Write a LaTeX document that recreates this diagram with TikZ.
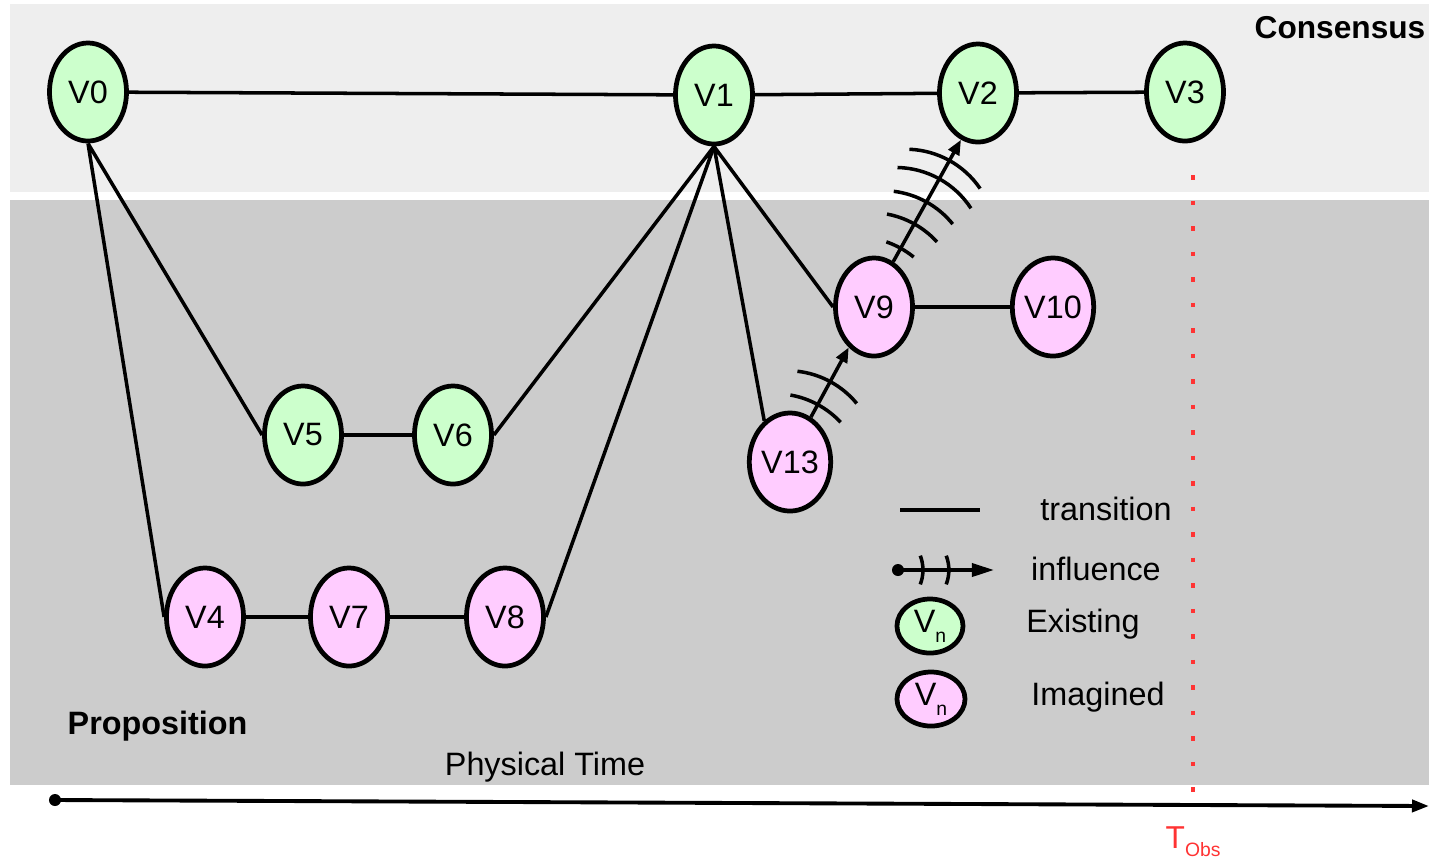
\documentclass[tikz,border=0pt]{standalone}
\usepackage{fontspec}
\setmainfont{Liberation Sans}
\usetikzlibrary{shapes.geometric, arrows.meta, decorations.markings}
\definecolor{bandlight}{RGB}{238,238,238}
\definecolor{banddark}{RGB}{204,204,204}
\definecolor{existgreen}{RGB}{204,255,204}
\definecolor{imagpink}{RGB}{255,204,255}
\definecolor{tobsred}{RGB}{255,51,51}

% one wave front of an influence arrow (radius, half angle)
\newcommand{\wavearc}[2]{\draw[line width=1pt, -] (-#1,0) ++(-#2:#1) arc[start angle=-#2, end angle=#2, radius=#1];}

\tikzset{
  vertex/.style={ellipse, draw, line width=1.35pt, inner sep=0pt, minimum width=0.77cm, minimum height=0.98cm, font=\fontsize{9.2}{11}\selectfont},
  existing/.style={vertex, fill=existgreen},
  imagined/.style={vertex, fill=imagpink},
  transline/.style={line width=1pt},
  infline/.style={line width=1pt, -{Triangle[length=0.15cm, width=0.12cm]}, postaction={decorate}},
  lbl/.style={font=\fontsize{9.2}{11}\selectfont},
}

\begin{document}
\begin{tikzpicture}[x=0.01cm, y=-0.01cm]
  \useasboundingbox (0,0) rectangle (1429,859);

  % Bands: consensus on top, proposition below
  \fill[bandlight] (10,4) rectangle (1429,192);
  \fill[banddark] (10,200) rectangle (1429,785);
  \node[lbl, font=\fontsize{9}{11}\selectfont\bfseries, anchor=west, inner sep=0pt] (consensus) at (1254,28) {Consensus};
  \node[lbl, font=\fontsize{9.2}{11}\selectfont\bfseries, anchor=west, inner sep=0pt] (proposition) at (67,726) {Proposition};

  % Consensus chain
  \node[existing] (v0) at (88,92) {V0};
  \node[existing] (v1) at (714,95) {V1};
  \node[existing] (v2) at (978,93) {V2};
  \node[existing] (v3) at (1185,92) {V3};

  % Proposed branches
  \node[existing] (v5) at (303,435) {V5};
  \node[existing] (v6) at (453,435) {V6};
  \node[imagined] (v4) at (205,617) {V4};
  \node[imagined] (v7) at (349,617) {V7};
  \node[imagined] (v8) at (505,617) {V8};
  \node[imagined] (v9) at (874,307) {V9};
  \node[imagined] (v10) at (1053,307) {V10};
  \node[imagined] (v13) at (790,462) {V13};

  % Transitions
  \draw[transline] (v0) -- (v1) (v1) -- (v2) (v2) -- (v3);
  \draw[transline] (v0.south) -- (v5.west) (v0.south) -- (v4.west);
  \draw[transline] (v5) -- (v6) (v4) -- (v7) (v7) -- (v8) (v9) -- (v10);
  \draw[transline] (v1.south) -- (v6.east) (v1.south) -- (v8.east);
  \draw[transline] (v1.south) -- (v9.west) (v1.south) -- (v13.122);

  % Influences
  \draw[infline, decoration={markings,
      mark=at position 0.18 with {\wavearc{0.9cm}{18.5}},
      mark=at position 0.51 with {\wavearc{0.9cm}{22}}}]
    (v13.65) -- (v9.238);
  \draw[infline, decoration={markings,
      mark=at position 0.11 with {\wavearc{0.9cm}{10}},
      mark=at position 0.31 with {\wavearc{0.9cm}{18.5}},
      mark=at position 0.49 with {\wavearc{0.9cm}{22}},
      mark=at position 0.68 with {\wavearc{0.9cm}{27.8}},
      mark=at position 0.83 with {\wavearc{0.9cm}{26.7}}}]
    (v9.67) -- (v2.250);

  % Legend
  \coordinate (transa) at (900,510);
  \coordinate (transb) at (980,510);
  \draw[transline, line width=1.2pt] (transa) -- (transb);
  \node[lbl] (transtext) at (1106,509) {transition};
  \coordinate (infa) at (898,570);
  \coordinate (infb) at (994,570);
  \fill (infa) circle (0.06cm);
  \draw[infline, -{Triangle[length=0.22cm, width=0.13cm]}, decoration={markings,
      mark=at position 0.26 with {\wavearc{0.4cm}{21}},
      mark=at position 0.53 with {\wavearc{0.4cm}{21}}}]
    (infa) -- (infb);
  \node[lbl] (inftext) at (1096,569) {influence};
  \node[existing, minimum width=0.66cm, minimum height=0.54cm] (legexist) at (930,626)
    {V\raisebox{-2.8pt}{\fontsize{5.5}{6}\selectfont n}};
  \node[lbl] (existtext) at (1083,624) {Existing};
  \node[imagined, minimum width=0.68cm, minimum height=0.54cm] (legimag) at (931,699)
    {V\raisebox{-2.8pt}{\fontsize{5.5}{6}\selectfont n}};
  \node[lbl] (imagtext) at (1098,697) {Imagined};

  % Observation time
  \coordinate (tobstop) at (1193,175);
  \coordinate (tobsbot) at (1193,792);
  \draw[tobsred, line width=0.045cm, dash pattern=on 0.045cm off 0.21cm] (tobstop) -- (tobsbot);
  \node[text=tobsred, anchor=base west, inner sep=0pt, font=\fontsize{9}{11}\selectfont] (tobs) at (1165,848)
    {T\raisebox{-2.4pt}{\fontsize{5.5}{6}\selectfont Obs}};

  % Physical time axis
  \node[lbl] (phystime) at (545,767) {Physical Time};
  \coordinate (tstart) at (55,800);
  \coordinate (tend) at (1429,806);
  \fill (tstart) circle (0.06cm);
  \draw[line width=1.1pt, -{Triangle[length=0.17cm, width=0.12cm]}] (tstart) -- (tend);
\end{tikzpicture}
\end{document}
